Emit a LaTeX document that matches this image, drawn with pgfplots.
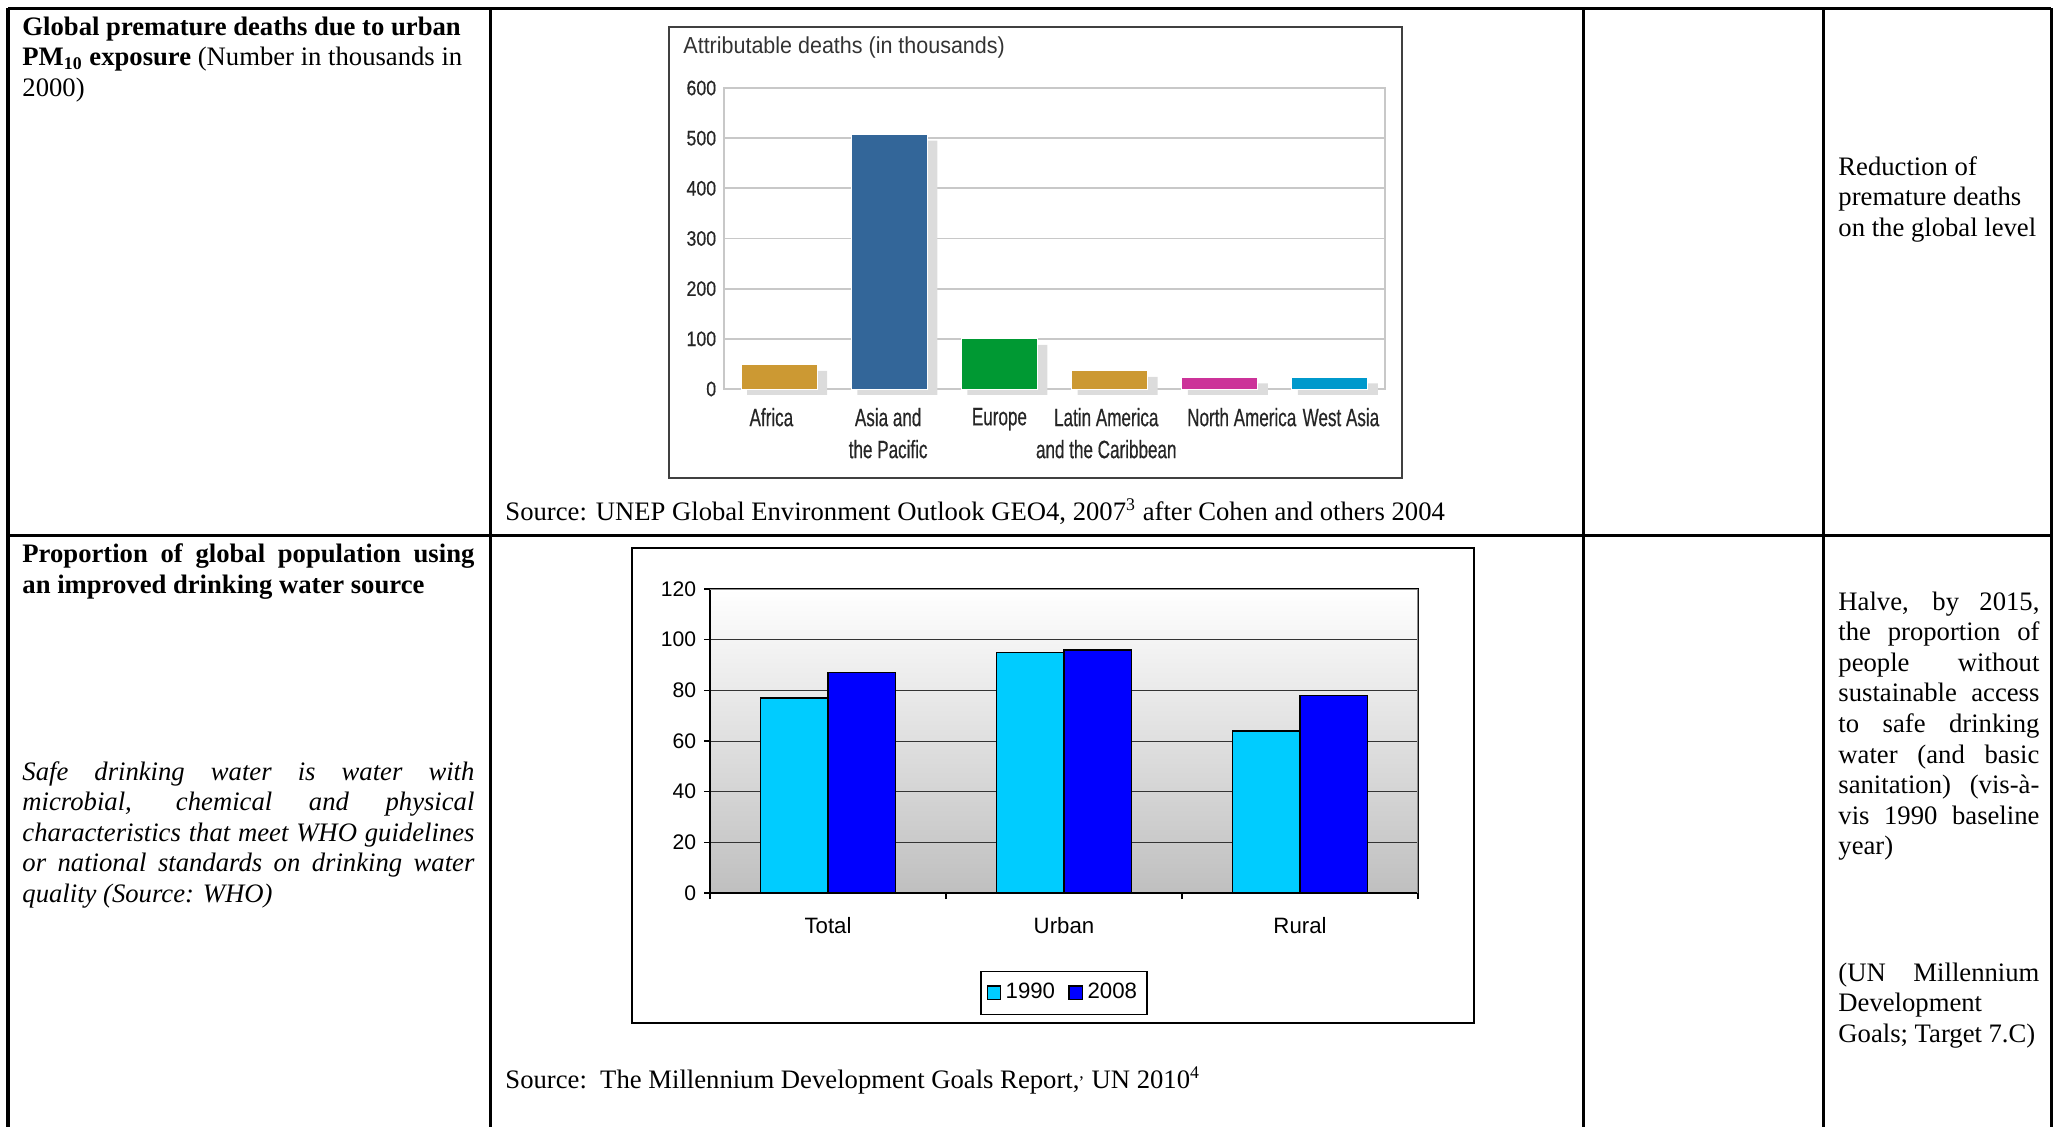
\documentclass[border=0pt]{standalone}
\usepackage{pgfplots}
\pgfplotsset{compat=1.18}
\usepackage{fontspec}
\setmainfont{Liberation Serif}
\newfontfamily\arialf{Liberation Sans}
\newfontfamily\condx[FakeStretch=0.68, UprightFeatures={FakeBold=0.5}]{Liberation Sans}
\newfontfamily\condy[FakeStretch=0.85, UprightFeatures={FakeBold=0.4}]{Liberation Sans}
\newfontfamily\condt[FakeStretch=0.93]{Liberation Sans}

\definecolor{afr}{HTML}{CC9933}
\definecolor{asia}{HTML}{336699}
\definecolor{eur}{HTML}{009933}
\definecolor{nam}{HTML}{CC3399}
\definecolor{wasia}{HTML}{0099CC}
\definecolor{shadowc}{HTML}{DCDCDC}
\definecolor{gridc}{HTML}{C8C8C8}
\definecolor{c1990}{HTML}{00CCFF}
\definecolor{c2008}{HTML}{0000FF}

\newcommand\tnr{\fontsize{12}{13.8}\selectfont}

\begin{document}
\begin{tikzpicture}
\useasboundingbox (0,0) rectangle (923.85pt,-506.7pt);

\begin{scope}[x=0.45pt,y=-0.45pt]
  % table rules
  \draw[line width=1.35pt] (8,8) -- (2051,8);
  \draw[line width=1.35pt] (8,535) -- (2051,535);
  \foreach \xx in {8,490,1583,1823,2051}
    \draw[line width=1.35pt] (\xx,8) -- (\xx,1130);

  % first column
  \node[anchor=base west, inner sep=0pt] at (22,35) {\tnr\bfseries Global premature deaths due to urban};
  \node[anchor=base west, inner sep=0pt] at (22,65.5) {\tnr\textbf{PM\textsubscript{10} exposure} (Number in thousands in};
  \node[anchor=base west, inner sep=0pt] at (22,96) {\tnr 2000)};

  \node[anchor=base west, inner sep=0pt] at (22,562) {\tnr\bfseries\makebox[203.4pt][s]{Proportion of global population using}};
  \node[anchor=base west, inner sep=0pt] at (22,593) {\tnr\bfseries an improved drinking water source};

  \node[anchor=base west, inner sep=0pt] at (22,780) {\tnr\itshape\makebox[203.4pt][s]{Safe drinking water is water with}};
  \node[anchor=base west, inner sep=0pt] at (22,810.5) {\tnr\itshape\makebox[203.4pt][s]{microbial, chemical and physical}};
  \node[anchor=base west, inner sep=0pt] at (22,841) {\tnr\itshape\makebox[203.4pt][s]{characteristics that meet WHO guidelines}};
  \node[anchor=base west, inner sep=0pt] at (22,871.5) {\tnr\itshape\makebox[203.4pt][s]{or national standards on drinking water}};
  \node[anchor=base west, inner sep=0pt] at (22,902) {\tnr\itshape quality (Source: WHO)};

  % last column
  \node[anchor=base west, inner sep=0pt] at (1838,175) {\tnr Reduction of};
  \node[anchor=base west, inner sep=0pt] at (1838,205.5) {\tnr premature deaths};
  \node[anchor=base west, inner sep=0pt] at (1838,236) {\tnr on the global level};

  \node[anchor=base west, inner sep=0pt] at (1838,610) {\tnr\makebox[90.45pt][s]{Halve, by 2015,}};
  \node[anchor=base west, inner sep=0pt] at (1838,640.6) {\tnr\makebox[90.45pt][s]{the proportion of}};
  \node[anchor=base west, inner sep=0pt] at (1838,671.2) {\tnr\makebox[90.45pt][s]{people without}};
  \node[anchor=base west, inner sep=0pt] at (1838,701.8) {\tnr\makebox[90.45pt][s]{sustainable access}};
  \node[anchor=base west, inner sep=0pt] at (1838,732.4) {\tnr\makebox[90.45pt][s]{to safe drinking}};
  \node[anchor=base west, inner sep=0pt] at (1838,763) {\tnr\makebox[90.45pt][s]{water (and basic}};
  \node[anchor=base west, inner sep=0pt] at (1838,793.6) {\tnr\makebox[90.45pt][s]{sanitation) (vis-à-}};
  \node[anchor=base west, inner sep=0pt] at (1838,824.2) {\tnr\makebox[90.45pt][s]{vis 1990 baseline}};
  \node[anchor=base west, inner sep=0pt] at (1838,854.8) {\tnr year)};

  \node[anchor=base west, inner sep=0pt] at (1838,981) {\tnr\makebox[90.45pt][s]{(UN Millennium}};
  \node[anchor=base west, inner sep=0pt] at (1838,1011.6) {\tnr Development};
  \node[anchor=base west, inner sep=0pt] at (1838,1042.2) {\tnr Goals; Target 7.C)};

  % sources
  \node[anchor=base west, inner sep=0pt] at (505,520) {\tnr Source: UNEP Global Environment Outlook GEO4, 2007\textsuperscript{3} after Cohen and others 2004};
  \node[anchor=base west, inner sep=0pt] at (505,1088) {\tnr Source:\ \ The Millennium Development Goals Report,\textsuperscript{,} UN 2010\textsuperscript{4}};

  % chart frames and title
  \draw[black!75, line width=1.1pt] (669,27) rectangle (1402,478);
  \node[anchor=base west, inner sep=0pt, text=black!80] at (683,53) {\condt\fontsize{10.4}{12}\selectfont Attributable deaths (in thousands)};
  \draw[black, line width=0.7pt] (632,548) rectangle (1474,1023);
\end{scope}

% chart 1: premature deaths
\begin{axis}[
  at={(325.8pt,-39.6pt)}, anchor=north west,
  scale only axis, width=297.45pt, height=135.45pt,
  xmin=-0.5, xmax=5.5, ymin=0, ymax=600,
  ytick={0,100,...,600},
  xtick={-0.07,0.99,2,2.97,4.2,5.1},
  xticklabels={Africa,{Asia and\\the Pacific},Europe,{Latin America\\and the Caribbean},North America,West Asia},
  xticklabel style={font=\condx\fontsize{11.3}{14.4}\selectfont, align=center, yshift=-5pt, text=black!85},
  yticklabel style={font=\condy\fontsize{9.4}{11}\selectfont, text=black!85},
  major tick length=0pt,
  ymajorgrids, grid style={gridc, line width=0.8pt},
  axis line style={gridc, line width=0.8pt},
  clip=false,
  /pgf/number format/assume math mode=true,
]
\addplot[ybar, bar width=36pt, bar shift=3.6pt, yshift=-2.7pt, fill=shadowc, draw=none]
  coordinates {(0,48) (1,507) (2,100) (3,36) (4,23) (5,23)};
\addplot[ybar, bar width=34.2pt, bar shift=0pt, fill=afr, draw=white, line width=0.4pt] coordinates {(0,48)};
\addplot[ybar, bar width=34.2pt, bar shift=0pt, fill=asia, draw=white, line width=0.4pt] coordinates {(1,507)};
\addplot[ybar, bar width=34.2pt, bar shift=0pt, fill=eur, draw=white, line width=0.4pt] coordinates {(2,100)};
\addplot[ybar, bar width=34.2pt, bar shift=0pt, fill=afr, draw=white, line width=0.4pt] coordinates {(3,36)};
\addplot[ybar, bar width=34.2pt, bar shift=0pt, fill=nam, draw=white, line width=0.4pt] coordinates {(4,23)};
\addplot[ybar, bar width=34.2pt, bar shift=0pt, fill=wasia, draw=white, line width=0.4pt] coordinates {(5,23)};
\end{axis}

% chart 2: improved drinking water
\begin{axis}[
  at={(319.5pt,-265.05pt)}, anchor=north west,
  scale only axis, width=318.6pt, height=136.8pt,
  ybar=0pt, bar width=30.3pt,
  xmin=-0.5, xmax=2.5, ymin=0, ymax=120,
  ytick={0,20,...,120},
  xtick={-0.5,0.5,1.5,2.5}, xticklabels={},
  extra x ticks={0,1,2}, extra x tick labels={Total,Urban,Rural},
  extra x tick style={major tick length=0pt, xticklabel style={yshift=-7.4pt, font=\arialf\fontsize{10}{12}\selectfont}},
  tick pos=left, tick align=outside, major tick length=2.7pt,
  tick style={black, line width=0.5pt},
  ymajorgrids, grid style={black!80, line width=0.45pt},
  axis line style={black, line width=0.5pt},
  axis background/.style={top color=white, bottom color=black!25},
  ticklabel style={font=\arialf\fontsize{9.5}{11}\selectfont},
  /pgf/number format/assume math mode=true,
  legend style={at={(0.5,-0.255)}, anchor=north, legend columns=2, draw=black,
    line width=0.5pt, font=\arialf\fontsize{10}{12}\selectfont,
    inner xsep=2.5pt, inner ysep=3.5pt,
    /tikz/every even column/.append style={column sep=4pt}},
]
\addplot[fill=c1990, draw=black, line width=0.7pt,
  legend image code/.code={\draw[fill=c1990, draw=black, line width=0.6pt] (0pt,-3pt) rectangle (6pt,3pt);}]
  coordinates {(0,77) (1,95) (2,64)};
\addplot[fill=c2008, draw=black, line width=0.7pt,
  legend image code/.code={\draw[fill=c2008, draw=black, line width=0.6pt] (0pt,-3pt) rectangle (6pt,3pt);}]
  coordinates {(0,87) (1,96) (2,78)};
\legend{1990,2008}
\draw[black!45, line width=0.5pt] (rel axis cs:0,1) -- (rel axis cs:1,1) -- (rel axis cs:1,0);
\end{axis}
\end{tikzpicture}
\end{document}
